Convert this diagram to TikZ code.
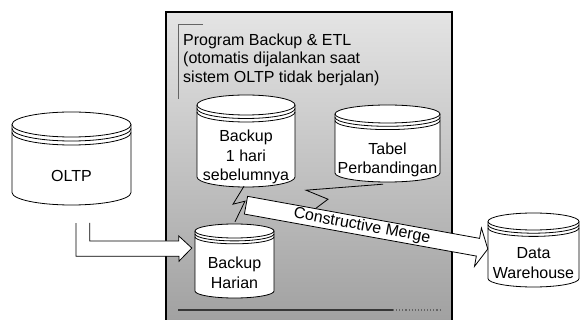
\documentclass[tikz,border=0pt]{standalone}
\usepackage{fontspec}
\setmainfont{Liberation Sans}
\usetikzlibrary{calc}

\definecolor{paneltop}{RGB}{228,228,228}
\definecolor{panelbottom}{RGB}{158,158,158}
\definecolor{rulegray}{RGB}{100,100,100}
\definecolor{ruledark}{RGB}{55,55,55}

\tikzset{
  drumbox/.style={shape=rectangle, draw=none, inner sep=0pt},
  drumline/.style={draw=black, line width=0.8pt, fill=white},
  drumtext/.style={align=center, inner sep=0pt, font=\fontsize{16}{19.5}\selectfont},
  blockarrow/.style={draw=black, line width=0.8pt, fill=white, line join=miter},
  bolt/.style={draw=black, line width=0.8pt},
}

% database drum: name, left, top, right, bottom, ellipse radius, text y, text
\newcommand\drum[8]{%
  \pgfmathsetmacro\drx{(#4-#2)/2}%
  \pgfmathsetmacro\dcx{(#2+#4)/2}%
  \pgfmathsetmacro\dcy{(#3+#5)/2}%
  \pgfmathsetmacro\dgap{1.5+0.2*#6}%
  \node[drumbox, minimum width=2*\drx pt, minimum height={(#5-#3)*1pt}] (#1) at (\dcx,\dcy) {};
  \draw[drumline] ({#4},{#3+#6}) arc[start angle=0,end angle=180,x radius=\drx pt,y radius=#6pt]
     -- ({#2},{#5-#6}) arc[start angle=180,end angle=360,x radius=\drx pt,y radius=#6pt] -- cycle;
  \foreach \k in {0,1,2}
    \draw[drumline, fill=none] ({#4},{#3+#6+\k*\dgap}) arc[start angle=0,end angle=-180,x radius=\drx pt,y radius=#6pt];
  \node[drumtext] (#1-label) at (\dcx,#7) {#8};
}

\begin{document}
\begin{tikzpicture}[x=1pt,y=-1pt]
\useasboundingbox (0,0) rectangle (581,320);
\clip (0,0) rectangle (581,320);

% ETL panel
\shade[top color=paneltop, bottom color=panelbottom] (166,12) rectangle (452,335);
\draw[black, line width=1.3pt] (166,335) -- (166,12) -- (452,12) -- (452,335);
\draw[rulegray, line width=0.9pt] (203,24) -- (178,24) -- (178,99);
\draw[ruledark, line width=1.1pt] (178,310) -- (393,310);
\draw[rulegray, line width=1.1pt, dotted] (393,310) -- (440,310);
\node[anchor=north west, inner sep=0pt, align=left, font=\fontsize{16}{18.5}\selectfont] (title) at (183,33.5)
  {Program Backup \& ETL\\(otomatis dijalankan saat\\sistem OLTP tidak berjalan)};

% databases
\drum{oltp}{12}{112}{131}{205}{12.5}{176}{OLTP}
\drum{prev}{197}{95}{295}{187}{10}{157}{Backup\\1 hari\\sebelumnya}
\drum{cmp}{335}{105}{440}{182}{9}{160}{Tabel\\Perbandingan}
\drum{daily}{195}{224}{274}{298}{7}{273}{Backup\\Harian}
\drum{dw}{488}{213}{579}{287}{8.5}{263}{Data\\Warehouse}

% OLTP -> daily backup
\coordinate (la-start) at ($(oltp.south)+(4.5,18)$);
\coordinate (la-tip) at ($(daily.west)+(-3,-13)$);
\fill[white] (la-start) -- ++(0,33) -- ++(103,0) -- ++(0,5) -- (la-tip) -- ++(-13,-12)
  -- ++(0,5) -- ++(-89,0) -- ++(0,-18) -- cycle;
\draw[blockarrow, fill=none] (la-start) -- ++(0,33) -- ++(103,0) -- ++(0,5) -- (la-tip) -- ++(-13,-12)
  -- ++(0,5) -- ++(-89,0) -- ++(0,-18);

% lightning links
\draw[bolt] ($(prev.south)+(-2,-1)$) -- ++(-11,18) -- ++(12,-3) -- ($(daily.north)+(0.5,-2)$);
\draw[bolt] ($(cmp.south)+(-4.5,2)$) -- ++(-77,6) -- ++(22,9) -- ++(-12,9);

% constructive merge arrow
\coordinate (cm-tail) at ($(prev.south)+(0,18)$);
\coordinate (cm-tip) at ($(dw.west)+(0,-1)$);
\coordinate (cm-neck) at ($(cm-tip)!10pt!(cm-tail)$);
\draw[blockarrow]
  ($(cm-tail)!9pt!90:(cm-tip)$) -- ($(cm-neck)!9pt!-90:(cm-tail)$) -- ($(cm-neck)!19.5pt!-90:(cm-tail)$)
  -- (cm-tip) -- ($(cm-neck)!19.5pt!90:(cm-tail)$) -- ($(cm-neck)!9pt!90:(cm-tail)$)
  -- ($(cm-tail)!9pt!-90:(cm-tip)$) -- cycle;
\path (cm-tail) -- node[sloped, midway, inner sep=0pt, font=\fontsize{16}{19}\selectfont] (cm-label) {Constructive Merge} (cm-neck);
\end{tikzpicture}
\end{document}
